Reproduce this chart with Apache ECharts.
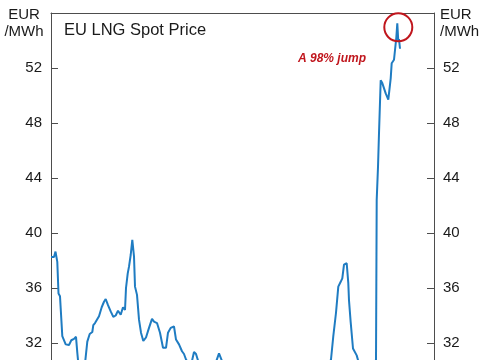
<!DOCTYPE html>
<html>
<head>
<meta charset="utf-8">
<script src="https://cdn.jsdelivr.net/npm/echarts@6/dist/echarts.min.js"></script>
<style>html,body{margin:0;padding:0;background:#fff}#c{width:485px;height:360px}</style>
</head>
<body>
<div id="c"></div>
<script>
// day index (relative) and EU LNG spot price, EUR/MWh
var days = [0,3,4.5,6.3,7.5,9,11.3,14.7,18,20.3,23,25,26.3,28,31,34,36.3,38.7,41.3,42.3,44,45.7,48,50.7,53,54.7,57,59.7,62.3,64.7,67,69.7,72,74,75,76.7,78,79.7,81.3,83,84,86,88,90,92.3,95,98,101,103,106,109,112,115,117,119.7,123,125,128,131,133,135,138,141,143,145,148,153,158,163,168,172,178,188,198,208,218,228,238,248,258,268,276,280,282.3,285,287.3,289.7,291.3,293,295.7,297.3,298,299.7,302,304,305.7,308,313,318,323,325,325.7,327,328,329.7,331.3,334.7,337.3,339.7,340.7,343,344,345.3,346.3,347.3,348,349];
var prices = [38.25,38.25,38.65,37.9,35.6,35.4,32.5,31.9,31.85,32.2,32.3,32.45,31.3,30.0,29.5,30.5,32.1,32.65,32.8,33.3,33.45,33.55,33.95,34.6,35.0,35.2,34.75,34.3,33.9,34.0,34.35,34.05,34.6,34.4,36.0,37.05,37.55,38.4,39.5,38.3,36.1,35.5,33.7,32.75,32.15,32.4,33.1,33.75,33.55,33.45,32.75,31.65,31.65,32.75,33.1,33.2,32.25,31.9,31.4,31.2,30.8,30.5,30.7,31.35,31.2,30.5,29.8,29.6,30.2,31.25,30.5,29.8,29.5,29.3,29.6,29.4,29.8,29.5,29.8,30.0,29.6,30.2,30.8,32.5,34.2,36.1,36.45,36.7,37.7,37.8,36.35,35.1,33.5,31.6,31.7,31.1,30.5,30.0,29.8,30.2,30.8,42.4,44.8,47.25,51.1,50.9,50.15,49.7,51.25,52.35,52.6,52.7,54.2,55.25,53.9,54.1,53.4];
var yMin = 24, yMax = 56, yStep = 4;
var titleText = 'EU LNG Spot Price';
var unitText = 'EUR\n/MWh';
var noteText = 'A 98% jump';

var data = days.map(function(d, i){ return [d, prices[i]]; });
var axisCol = '#4d4d4d';
var txtCol = '#1a1a1a';
var font = 'Liberation Sans, Arial, sans-serif';

function yAx(pos){
  return {
    type: 'value', position: pos, min: yMin, max: yMax, interval: yStep,
    axisLine: {show: true, lineStyle: {color: axisCol, width: 1}},
    axisTick: {show: true, inside: true, length: 7, lineStyle: {color: axisCol}},
    axisLabel: {show: true, margin: 9, color: txtCol, fontSize: 15, fontFamily: font, showMaxLabel: false},
    splitLine: {show: false}
  };
}

var chart = echarts.init(document.getElementById('c'), null, {renderer: 'canvas'});
chart.setOption({
  animation: false,
  backgroundColor: '#fff',
  grid: {left: 51, right: 51, top: 13, bottom: -93, outerBoundsMode: 'none', containLabel: false},
  xAxis: {
    type: 'value', position: 'top', min: 0, max: 383,
    axisLine: {show: true, onZero: false, lineStyle: {color: axisCol, width: 1}},
    axisTick: {show: false}, axisLabel: {show: false}, splitLine: {show: false}
  },
  yAxis: [yAx('left'), yAx('right')],
  series: [{
    type: 'line', data: data, showSymbol: false, symbol: 'none',
    lineStyle: {color: '#1f7cc2', width: 2},
    markPoint: {
      data: [{type: 'max'}],
      symbol: 'circle', symbolSize: 28, symbolOffset: [1, 4],
      itemStyle: {color: 'rgba(0,0,0,0)', borderColor: '#c0161d', borderWidth: 2},
      label: {show: false}
    }
  }],
  graphic: [
    {type: 'text', left: 64, top: 22, style: {text: titleText, font: '16.5px ' + font, fill: txtCol}},
    {type: 'text', x: 24, y: 6, style: {text: unitText, font: '15px ' + font, fill: txtCol, textAlign: 'center', lineHeight: 17}},
    {type: 'text', x: 440, y: 6, style: {text: unitText, font: '15px ' + font, fill: txtCol, textAlign: 'left', lineHeight: 17}},
    {type: 'text', x: 332, y: 53, style: {text: noteText, font: 'italic bold 12px ' + font, fill: '#c0161d', textAlign: 'center'}}
  ]
});
</script>
</body>
</html>
